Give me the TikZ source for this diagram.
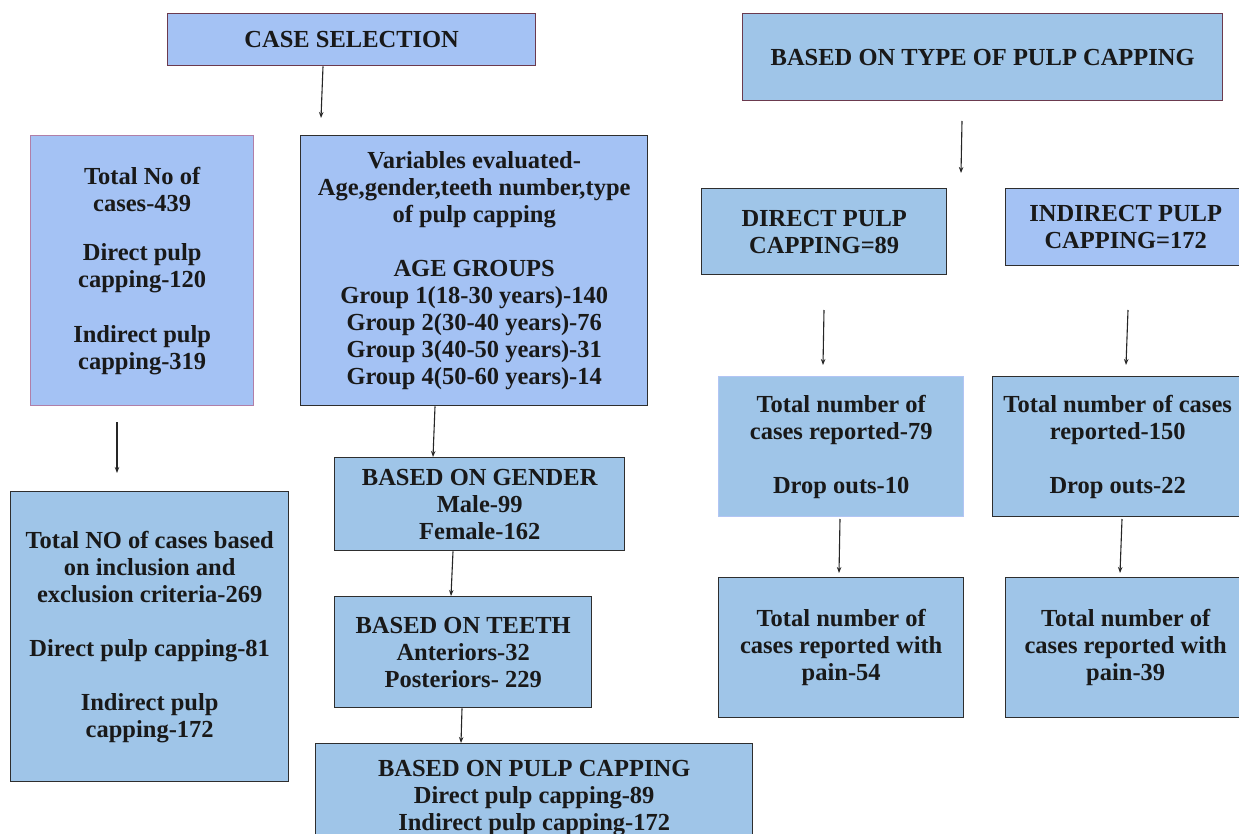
\documentclass[tikz,border=0pt]{standalone}
\usepackage{fontspec}
\setmainfont{Liberation Serif}[BoldFont={Liberation Serif Bold}]
\usetikzlibrary{arrows.meta}
\definecolor{peri}{HTML}{A4C2F4}
\definecolor{sky}{HTML}{9FC5E8}
\definecolor{maroon}{HTML}{6B3A4E}
\definecolor{pinkb}{HTML}{B07FA8}
\definecolor{darkb}{HTML}{2E2E2E}
\tikzset{
  box/.style={draw=darkb, line width=1.4pt, fill=sky, anchor=north west, inner sep=0pt,
    align=center, font=\fontsize{24.5}{27}\selectfont\bfseries, text=black!90},
  arr/.style={-{Stealth[length=6pt,width=4.5pt]}, line width=1.1pt, black!85},
}
\begin{document}
\begin{tikzpicture}[x=1pt,y=-1pt]
\clip (0,0) rectangle (1239,834);
\fill[white] (0,0) rectangle (1239,834);

% left column
\node[box, fill=peri, draw=maroon, minimum width=368pt, minimum height=52pt] (cs) at (167,13) {CASE SELECTION};
\node[box, fill=peri, draw=pinkb, minimum width=223pt, minimum height=270pt] (lt) at (30,135)
  {Total No of\\cases-439\\[22pt]Direct pulp\\capping-120\\[28pt]Indirect pulp\\capping-319};
\node[box, fill=peri, minimum width=347pt, minimum height=270pt] (var) at (300,135)
  {Variables evaluated-\\Age,gender,teeth number,type\\of pulp capping\\[27pt]AGE GROUPS\\Group 1(18-30 years)-140\\Group 2(30-40 years)-76\\Group 3(40-50 years)-31\\Group 4(50-60 years)-14};
\node[box, minimum width=278pt, minimum height=290pt] (lb) at (10,491)
  {Total NO of cases based\\on inclusion and\\exclusion criteria-269\\[27pt]Direct pulp capping-81\\[27pt]Indirect pulp\\capping-172};
\node[box, minimum width=290pt, minimum height=93pt] (gen) at (334,457)
  {BASED ON GENDER\\Male-99\\Female-162};
\node[box, minimum width=257pt, minimum height=111pt] (teeth) at (334,596)
  {BASED ON TEETH\\Anteriors-32\\Posteriors- 229};
\node[box, minimum width=437pt, minimum height=108pt] (pc) at (315,743)
  {BASED ON PULP CAPPING\\Direct pulp capping-89\\Indirect pulp capping-172};

% right part
\node[box, draw=maroon, minimum width=480pt, minimum height=87pt] (type) at (742,13)
  {BASED ON TYPE OF PULP CAPPING};
\node[box, minimum width=245pt, minimum height=86pt] (dir) at (701,188)
  {DIRECT PULP\\CAPPING=89};
\node[box, fill=peri, minimum width=240pt, minimum height=77pt] (ind) at (1005,188)
  {INDIRECT PULP\\CAPPING=172};
\node[box, draw=sky!80!blue!60, minimum width=245pt, minimum height=140pt] (r79) at (718,376)
  {Total number of\\cases reported-79\\[27pt]Drop outs-10};
\node[box, minimum width=250pt, minimum height=140pt] (r150) at (992,376)
  {Total number of cases\\reported-150\\[27pt]Drop outs-22};
\node[box, minimum width=245pt, minimum height=140pt] (p54) at (718,577)
  {Total number of\\cases reported with\\pain-54};
\node[box, minimum width=240pt, minimum height=140pt] (p39) at (1005,577)
  {Total number of\\cases reported with\\pain-39};

% free arrow ends
\coordinate (a1e) at (321,118);
\coordinate (a2s) at (117,422);
\coordinate (a2e) at (117,473);
\coordinate (a6s) at (962,121);
\coordinate (a6e) at (961,173);
\coordinate (a7s) at (824,310);
\coordinate (a7e) at (823,365);
\coordinate (a8s) at (1128,310);
\coordinate (a8e) at (1126,365);
\coordinate (a9s) at (840,519);
\coordinate (a9e) at (839,573);
\coordinate (a10s) at (1122,519);
\coordinate (a10e) at (1120,573);

\draw[arr] (cs.south -| 323,0) -- (a1e);
\draw[arr] (a2s) -- (a2e);
\draw[arr] (var.south -| 435,0) -- (gen.north -| 433,0);
\draw[arr] (gen.south -| 453,0) -- (teeth.north -| 451,0);
\draw[arr] (teeth.south -| 462,0) -- (pc.north -| 461,0);
\draw[arr] (a6s) -- (a6e);
\draw[arr] (a7s) -- (a7e);
\draw[arr] (a8s) -- (a8e);
\draw[arr] (a9s) -- (a9e);
\draw[arr] (a10s) -- (a10e);
\end{tikzpicture}
\end{document}
